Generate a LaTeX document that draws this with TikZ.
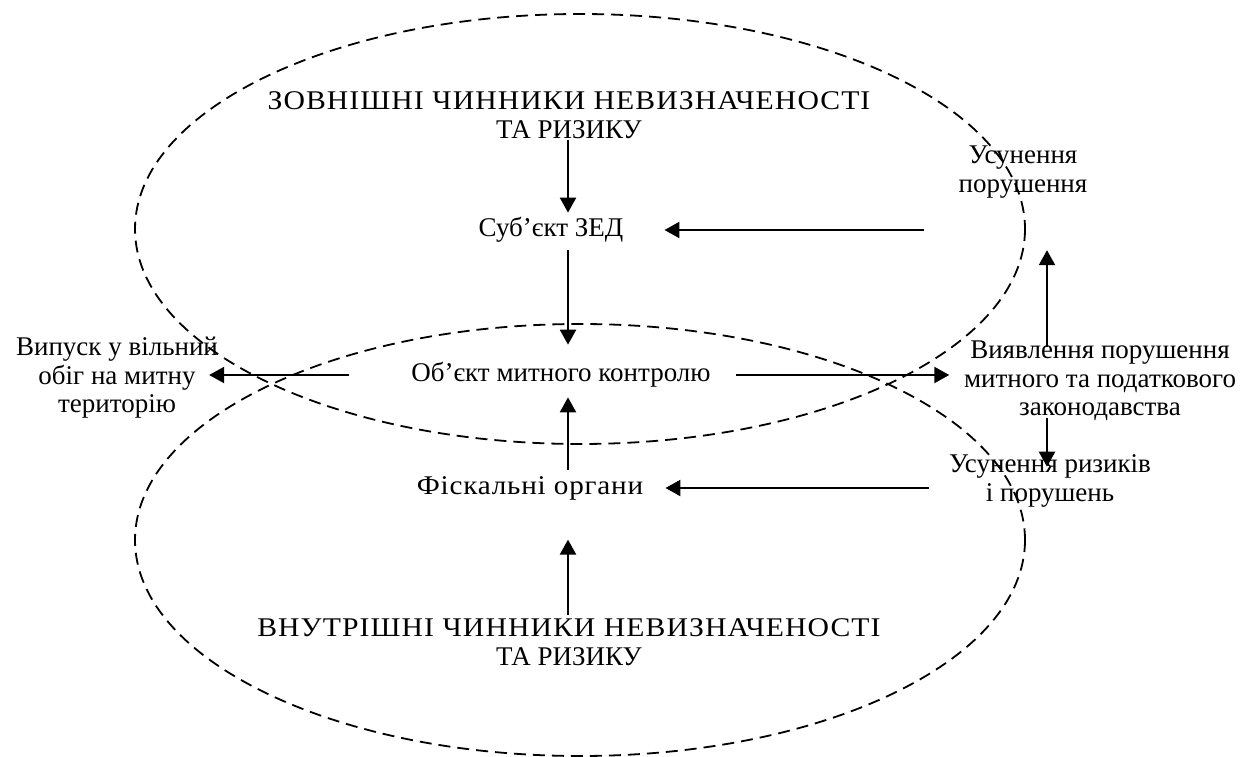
\documentclass[tikz,border=0pt]{standalone}
\usepackage{fontspec}
\setmainfont{Liberation Serif}
\usetikzlibrary{arrows.meta,calc}

\newcommand{\wide}[1]{{\addfontfeatures{FakeStretch=1.1,LetterSpace=4}#1}}

\tikzset{
  lbl/.style={inner sep=0pt, align=center, font=\fontsize{27}{28.5}\selectfont},
  arr/.style={-{Triangle[length=15pt,width=16pt]}, line width=2.2pt},
  zone/.style={draw, dash pattern=on 12pt off 7pt, line width=1.8pt}
}

\begin{document}
\begin{tikzpicture}[x=1pt,y=-1pt]
    \useasboundingbox (0,0) rectangle (1245,757);

    % Zones of uncertainty
    \draw[zone] (580,229) ellipse [x radius=445, y radius=215];
    \draw[zone] (580,540) ellipse [x radius=445, y radius=216];

    \coordinate (axis) at (568,0);
    \coordinate (side) at (1047,0);

    % Central column
    \node[lbl] (ext) at (569,115) {\wide{ЗОВНІШНІ ЧИННИКИ НЕВИЗНАЧЕНОСТІ}\\ТА РИЗИКУ};
    \node[lbl] (subj) at (551,230) {Суб’єкт ЗЕД};
    \node[lbl] (obj) at (561,375) {Об’єкт митного контролю};
    \node[lbl] (fisc) at (530,488) {{\addfontfeatures{FakeStretch=1.08,LetterSpace=3}Фіскальні органи}};
    \node[lbl] (int) at (569,642) {\wide{ВНУТРІШНІ ЧИННИКИ НЕВИЗНАЧЕНОСТІ}\\ТА РИЗИКУ};

    % Outcomes
    \node[lbl] (release) at (117,378) {Випуск у вільний\\обіг на митну\\територію};
    \node[lbl] (fix) at (1023,172) {Усунення\\порушення};
    \node[lbl] (detect) at (1100,381) {Виявлення порушення\\митного та податкового\\законодавства};
    \node[lbl] (remove) at (1050,481) {Усунення ризиків\\і порушень};

    \draw[arr, shorten <=1.5pt, shorten >=4.6pt] (ext.south -| axis) -- (subj.north -| axis);
    \draw[arr, shorten <=7.6pt, shorten >=17.6pt] (subj.south -| axis) -- (obj.north -| axis);
    \draw[arr, shorten <=62pt, shorten >=-9pt] (obj.west) -- (release.east |- obj.west);
    \draw[arr, shorten <=25pt, shorten >=14.5pt] (obj.east) -- (detect.west |- obj.east);
    \draw[arr, shorten <=20pt, shorten >=22pt] (remove.west |- fisc.east) -- (fisc.east);
    \draw[arr, shorten <=5.6pt, shorten >=9.6pt] (fisc.north -| axis) -- (obj.south -| axis);
    \draw[arr, shorten <=3.5pt, shorten >=39.6pt] (int.north -| axis) -- (fisc.south -| axis);
    \draw[arr, shorten <=-6.5pt, shorten >=52pt] (detect.north -| side) -- (fix.south -| side);
    \draw[arr, shorten <=-3.5pt, shorten >=-12pt] (detect.south -| side) -- (remove.north -| side);
    \draw[arr, shorten <=34pt, shorten >=41pt] (fix.west |- subj.east) -- (subj.east);
\end{tikzpicture}
\end{document}
